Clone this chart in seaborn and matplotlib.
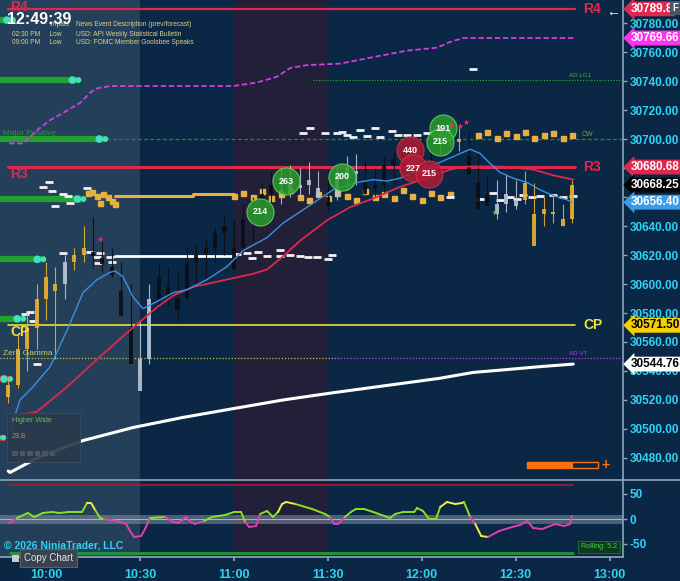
import matplotlib
matplotlib.use("Agg")
import matplotlib.pyplot as plt
import matplotlib.transforms as mtransforms
from matplotlib.patches import Rectangle
from matplotlib.lines import Line2D
import seaborn as sns

sns.set_theme(style="dark")
plt.rcParams["font.family"] = ["Liberation Sans", "DejaVu Sans"]

# ----------------------------------
# Data  (x = minutes after 10:00, y = price)
# ----------------------------------
candle_min = [-12, -9, -6, -3, 0, 3, 6, 9, 12, 15, 18, 21, 24, 27, 30, 33, 36, 39, 42, 45,
              48, 51, 54, 57, 60, 63, 66, 69, 72, 75, 78, 81, 84, 87, 90, 93, 96, 99, 102, 105,
              108, 111, 114, 117, 120, 123, 126, 129, 132, 135, 138, 141, 144, 147, 150, 153,
              156, 159, 162, 165, 168]
candle_open = [30522, 30530, 30555, 30570, 30590, 30605, 30600, 30615, 30620, 30625, 30622,
               30618, 30612, 30595, 30570, 30548, 30590, 30605, 30598, 30590, 30615, 30620,
               30625, 30635, 30640, 30625, 30645, 30650, 30662, 30668, 30665, 30670, 30668,
               30672, 30666, 30660, 30675, 30680, 30678, 30670, 30668, 30682, 30686, 30692,
               30690, 30696, 30700, 30705, 30702, 30700, 30688, 30670, 30662, 30655, 30662,
               30658, 30670, 30648, 30652, 30650, 30645]
candle_close = [30530, 30555, 30570, 30590, 30605, 30600, 30615, 30620, 30625, 30622, 30618,
                30612, 30595, 30570, 30548, 30590, 30605, 30598, 30590, 30615, 30620, 30625,
                30635, 30640, 30625, 30645, 30650, 30662, 30668, 30665, 30670, 30668, 30672,
                30666, 30660, 30675, 30680, 30678, 30670, 30668, 30682, 30686, 30692, 30690,
                30696, 30700, 30705, 30702, 30700, 30688, 30670, 30662, 30655, 30662, 30658,
                30670, 30648, 30652, 30650, 30645, 30668]
candle_high = [30535, 30565, 30580, 30600, 30615, 30612, 30620, 30625, 30640, 30646, 30630,
               30625, 30615, 30600, 30575, 30600, 30615, 30612, 30610, 30625, 30628, 30632,
               30640, 30648, 30645, 30655, 30660, 30670, 30678, 30680, 30682, 30680, 30684,
               30678, 30672, 30682, 30688, 30690, 30685, 30680, 30688, 30692, 30698, 30700,
               30702, 30706, 30710, 30712, 30710, 30705, 30690, 30675, 30672, 30675, 30672,
               30678, 30670, 30660, 30662, 30655, 30672]
candle_low = [30518, 30528, 30540, 30555, 30575, 30548, 30590, 30610, 30615, 30612, 30608,
              30605, 30590, 30560, 30538, 30545, 30585, 30585, 30575, 30590, 30600, 30605,
              30615, 30620, 30612, 30622, 30630, 30645, 30650, 30655, 30660, 30660, 30662,
              30660, 30652, 30658, 30665, 30668, 30662, 30660, 30662, 30670, 30672, 30675,
              30680, 30685, 30690, 30695, 30692, 30682, 30665, 30655, 30645, 30650, 30652,
              30655, 30642, 30640, 30642, 30640, 30642]
candle_kind = "ggggggwggkkkkkwwkkkkkkkkkkkkkwwwwwkwwwkkkkkkkkgggkkkwwwgggggg"

ema_min = [-11.5, -8.3, -4.2, 1.3, 6.7, 11.8, 16.3, 20.4, 22, 24.6, 27.8, 31, 35.5, 40.6, 45,
           51.4, 57.8, 62.9, 70.6, 75.7, 83.4, 91.7, 99.4, 104.5, 108.9, 113.1, 119.5, 125.9,
           132.3, 135.5, 138.7, 141.9, 145, 149.2, 153.7, 157.8, 162, 166.5, 168]
ema_val = [30499, 30520, 30529, 30543, 30568, 30594, 30603, 30608, 30609, 30605, 30591, 30583,
           30588, 30594, 30596, 30603, 30612, 30623, 30632, 30642, 30653, 30665, 30670, 30672,
           30671, 30673, 30679, 30684, 30690, 30693, 30690, 30683, 30677, 30673, 30670, 30665,
           30661, 30658, 30656.4]

slow_min = [-11.5, -2.9, 6.7, 17.3, 27.8, 35.5, 40.6, 47, 59.7, 66.1, 70.6, 75.7, 81.2, 89.8,
            97.1, 104.5, 113.1, 121.7, 129.1, 134.5, 145, 155.6, 162, 168.4]
slow_val = [30508, 30512, 30529, 30550, 30570, 30584, 30592, 30598, 30604, 30607, 30610, 30619,
            30630, 30644, 30653, 30659, 30667, 30673, 30679, 30681, 30681, 30679, 30675, 30672]

vwap_min = [-12.1, -11.5, -1.9, 11.8, 27.8, 43.8, 59.7, 75.7, 91.7, 125.9, 136.4, 147.3, 157.8, 168.4]
vwap_val = [30471, 30470, 30481, 30492, 30501, 30508, 30514, 30520, 30525, 30535, 30539, 30541,
            30543, 30544.76]

band_min = [-11.8, -7.3, -2.9, 1.3, 5.4, 10.9, 14.1, 16.3, 20.4, 59.7, 67.4, 73.8, 78, 83.4,
            93.9, 104.5, 115.3, 124.9, 129.1, 133.2, 168.4]
band_val = [30697, 30697, 30706, 30713, 30718, 30725, 30732, 30735, 30736.5, 30736.5, 30739,
            30743, 30749, 30751, 30752, 30756.5, 30761, 30763, 30767, 30769.66, 30769.66]

gold_min = [60, 63, 66, 69, 72, 75, 78, 81, 84, 87, 90, 93, 96, 99, 102, 105, 108, 111, 114,
            117, 120, 123, 126, 129, 13.4, 14.7, 16.3, 17.3, 18.2, 19.8, 21.1, 22,
            138, 141, 144, 147, 150, 153, 156, 159, 162, 165, 168]
gold_val = [30661, 30663, 30660, 30664, 30659, 30662, 30665, 30660, 30658, 30662, 30659, 30663,
            30661, 30658, 30664, 30660, 30662, 30659, 30665, 30661, 30658, 30663, 30660, 30662,
            30662.8, 30663.4, 30660.7, 30655.9, 30662.1, 30660, 30657.2, 30655.2,
            30703, 30705, 30701, 30704, 30702, 30705, 30701, 30703, 30704, 30701, 30703]

dash_min = [82.1, 84.3, 89.1, 93.0, 94.6, 96.2, 98.1, 100.3, 102.6, 105.1, 106.7, 110.5, 112.5,
            115.3, 118.5, 121.7, 136.4, 129.1, 138.7, 142.8, 148.2, 152.4, 155.3, 157.8, 162,
            165.2, 168.4, 145, 150.5, 61, 64.2, 65.8, 67.7, 70.6, 74.8, 74.8, 78, 81.2, 83.7,
            86.6, 91.4, 90.1, -1, 1, 1.9, 5.4, 7, 7.7, 2.9, 13.1, 5.4, 14.1, 17.3, 16.3, 20.4,
            21.1, 16.6, -6.7, -5.1, -4.2, -2.9]
dash_val = [30704.1, 30707.6, 30704.1, 30704.1, 30704.8, 30702.8, 30701.4, 30706.2, 30702.1,
            30707.6, 30701.4, 30705.5, 30702.8, 30702.8, 30702.8, 30704.1, 30748.3, 30660,
            30658.6, 30662.8, 30660, 30661.4, 30660, 30660.7, 30661.4, 30660, 30660.7, 30657.9,
            30658.6, 30620.7, 30621.4, 30617.9, 30622.1, 30619.3, 30623.4, 30619.3, 30620,
            30619.3, 30618.6, 30618.6, 30620, 30617.2, 30667, 30670.3, 30664.1, 30662, 30660.7,
            30655.9, 30653.8, 30666.2, 30621.4, 30622.1, 30621.4, 30618.6, 30618.6, 30615.2,
            30614.5, 30579.3, 30580.7, 30574.5, 30544.8]

bubble_min = [76.7, 68.4, 94.6, 126.8, 125.9, 116.3, 117.3, 122.4]
bubble_val = [30671, 30650, 30674, 30707.6, 30698, 30692.4, 30680, 30676]
bubble_txt = ["263", "214", "200", "191", "215", "440", "227", "215"]
bubble_side = ["buy", "buy", "buy", "buy", "buy", "sell", "sell", "sell"]

star_min = [17.3, 129.7, 132.3, 134.2]
star_val = [30631, 30710, 30709, 30711.7]
green_star = (143.5, 30649.6)

left_bar_val = [30782, 30740.7, 30700, 30658.6, 30617, 30576, 30534.5, 30494]
left_bar_end = [-10, 10.9, 19.5, 12.5, -0.3, -6.7, -10.9, -13.1]
left_bar_kind = ["g", "g", "g", "g", "g", "g", "r", "r"]

osc_min = [-11.8, -9.3, -5.8, -3.8, -1, 1.9, 4.2, 7.3, 11.5, 13.1, 14.4, 15.7, 17.3, 18.5, 20.8,
           22.7, 25.6, 26.8, 28.1, 30.4, 31.6, 33.2, 38, 40.6, 42.2, 44.7, 46.3, 47.6, 50.5, 53,
           57.2, 60.1, 62.3, 63.6, 64.9, 67.1, 68.4, 70.6, 72.5, 74.1, 75.4, 76.7, 79.6, 85,
           89.1, 90.7, 92, 93.3, 95.5, 97.4, 99, 101.6, 104.5, 109.9, 111.5, 114.1, 117.6,
           118.5, 120.4, 122.4, 124.6, 125.9, 128.1, 130.7, 132.9, 133.5, 135.5, 137.1, 139,
           141.2, 144.7, 148.9, 151.4, 153.7, 155.6, 158.5, 162.6, 165.5, 167.4, 168]
osc_val = [-8, 2, 12, 4, 12, 14, 12, 14, 14, 32, 32, 18, 2, 0, -2, -4, -10, -24, -36, -34, -20,
           2, 4, -6, -8, 4, -6, -10, -4, 4, 8, 14, 14, -6, -16, -14, 10, 16, 4, 14, 30, 34, 30,
           20, 10, 4, -10, -10, 4, 14, 20, 20, 14, 2, 10, 14, 14, 22, 16, 0, 0, 24, 34, 30, 32,
           34, 4, -10, -34, -36, -24, -16, -12, -4, -18, -20, -10, -14, -10, 6]
osc_yellow = [(12.5, 15.2), (74.5, 80), (126.5, 134), (138, 142.5)]

price_ticks = [30480, 30500, 30520, 30540, 30560, 30580, 30600, 30620, 30640, 30660, 30680,
               30700, 30720, 30740, 30760, 30780]
hidden_ticks = [30660, 30680]
time_ticks = [0, 30, 60, 90, 120, 150, 180]
time_labels = ["10:00", "10:30", "11:00", "11:30", "12:00", "12:30", "13:00"]

NAVY = "#0a2746"
SHADE = "#243f5a"
PURPLE = "#221f38"
CYAN = "#2fd3f2"
RED = "#e0284f"
GOLD = "#e8b040"

X0, X1 = -14.7, 184.3


def fx(px):
    return px / 680


def fy(py):
    return 1 - py / 581


fig = plt.figure(figsize=(6.8, 5.81), dpi=100, facecolor=NAVY)
ax = fig.add_axes([0, 102 / 581, 623 / 680, 479 / 581])
ax2 = fig.add_axes([0, 24 / 581, 623 / 680, 78 / 581])

for a in (ax, ax2):
    a.set_facecolor(NAVY)
    a.set_xlim(X0, X1)
    a.axvspan(X0, 30, color=SHADE, lw=0, zorder=0)
    a.axvspan(60, 90, color=PURPLE, lw=0, zorder=0)
    a.grid(False)
    for s in ("top", "left", "bottom"):
        a.spines[s].set_visible(False)
    a.spines["right"].set_color("#8ea3b8")
    a.spines["right"].set_linewidth(1.2)
    a.yaxis.tick_right()
    a.tick_params(axis="y", colors="#8ea3b8", labelcolor=CYAN, length=3, width=1,
                  pad=2, labelsize=8.5, right=True, left=False)

ax.set_ylim(30465.5, 30795.9)
ax2.set_ylim(-76, 80)
ax.set_xticks([])
ax.set_yticks(price_ticks)
ax.set_yticklabels(["" if v in hidden_ticks else f"{v:.2f}" for v in price_ticks],
                   fontweight="bold")
ax2.set_yticks([50, 0, -50])
ax2.set_yticklabels(["50", "0", "-50"], fontweight="bold")
ax2.spines["bottom"].set_visible(True)
ax2.spines["bottom"].set_color("#8ea3b8")
ax2.set_xticks(time_ticks)
ax2.set_xticklabels(time_labels, fontweight="bold")
ax2.tick_params(axis="x", colors="#8ea3b8", labelcolor=CYAN, labelsize=9, length=3,
                pad=6, bottom=True)

# ----------------------------------
# level lines
# ----------------------------------
ax.plot([-12, 169], [30789.8] * 2, color=RED, lw=1.6, zorder=2)
ax.plot([-12, 169], [30680.68] * 2, color=RED, lw=2.2, zorder=2)
ax.plot([-12, 169], [30571.5] * 2, color="#e6e040", lw=1.2, zorder=2)
ax.plot([X0, 94], [30549] * 2, color="#c8c840", lw=0.9, ls=(0, (1, 1.5)), zorder=2)
ax.plot([91, X1], [30549] * 2, color="#c040e0", lw=0.9, ls=(0, (1, 1.5)), zorder=2)
ax.plot([85.3, X1], [30741] * 2, color="#30b030", lw=0.8, ls=(0, (1, 1.5)), zorder=2)
ax.plot([X0, X1], [30700] * 2, color="#2a8a2a", lw=0.9, ls=(0, (3, 2)), zorder=2)

for val, end, kind in zip(left_bar_val, left_bar_end, left_bar_kind):
    c = "#22a030" if kind == "g" else "#e82020"
    ax.plot([X0, end], [val, val], color=c, lw=4.5, solid_capstyle="butt", zorder=3)
    ax.scatter([end - 2.5, end - 0.5], [val, val], s=[30, 16], color="#40e0c0", zorder=4,
               linewidths=0)

# stepped order-flow markers
ax.plot([22, 47], [30660.7] * 2, color=GOLD, lw=2.2, zorder=3)
ax.plot([47, 60], [30662] * 2, color=GOLD, lw=2.2, zorder=3)
ax.plot([22, 59.7], [30619.3] * 2, color="white", lw=2, zorder=3)
ax.plot(gold_min, gold_val, ls="none", marker="s", ms=3.6, color=GOLD, zorder=3)
ax.plot(dash_min, dash_val, ls="none", marker="_", ms=6, mew=2, color="#f4f0f4", zorder=3)

# curves
sns.lineplot(x=band_min, y=band_val, ax=ax, color="#d040e0", lw=1.3, linestyle=(0, (3, 1.5)),
             estimator=None, sort=False, zorder=3)
sns.lineplot(x=vwap_min, y=vwap_val, ax=ax, color="white", lw=2.2, estimator=None,
             sort=False, zorder=3)

# candles
kind_color = {"g": "#e8b030", "w": "#b8c4d4", "k": "#0c0e14"}
for m, o, c, h, l, k in zip(candle_min, candle_open, candle_close, candle_high, candle_low,
                            candle_kind):
    col = kind_color[k]
    ax.vlines(m, l, h, color=col, lw=0.8, zorder=4, alpha=0.9)
    body = c - o if abs(c - o) > 1 else 1.2
    ax.bar(m, body, bottom=min(o, c) if abs(c - o) > 1 else c - 0.6, width=1.3, color=col,
           zorder=4, alpha=0.9, linewidth=0)

sns.lineplot(x=slow_min, y=slow_val, ax=ax, color="#e0284f", lw=1.3, estimator=None,
             sort=False, zorder=5)
sns.lineplot(x=ema_min, y=ema_val, ax=ax, color="#3f8fe0", lw=1.0, estimator=None,
             sort=False, zorder=5)

# bubbles
for m, v, t, side in zip(bubble_min, bubble_val, bubble_txt, bubble_side):
    fc = "#2a9d2e" if side == "buy" else "#b01c34"
    ec = "#60d860" if side == "buy" else "#d03048"
    ax.scatter([m], [v], s=380, color=fc, edgecolors=ec, linewidths=0.8, alpha=0.85, zorder=6)
    ax.text(m, v, t, color="white", fontsize=6.5, fontweight="bold", ha="center",
            va="center", zorder=7)
ax.scatter(star_min, star_val, marker="*", s=22, color="#e0305a", zorder=7, linewidths=0)
ax.scatter([green_star[0]], [green_star[1]], marker="*", s=22, color="#60e040", zorder=7,
           linewidths=0)

# level labels
lbl = dict(fontsize=10, fontweight="bold", va="center", zorder=6)
ax.text(171.5, 30789.8, "R4", color=RED, **lbl)
ax.text(171.5, 30680.68, "R3", color=RED, **lbl)
ax.text(171.5, 30571.5, "CP", color="#f0e040", **lbl)
ax.text(-11.5, 30791, "R4", color=RED, **lbl)
ax.text(-11.5, 30676, "R3", color=RED, **lbl)
ax.text(-11.5, 30567, "CP", color="#f0e040", **lbl)
ax.text(-13.8, 30702.5, "Major Positive", color="#2a9a3a", fontsize=6, zorder=6)
ax.text(-13.8, 30551, "Zero Gamma", color="#c8d060", fontsize=6, zorder=6)
ax.text(167, 30743, "AD LG1", color="#30c030", fontsize=4.5, zorder=6)
ax.text(167, 30551, "AD VT", color="#b040e0", fontsize=4.5, zorder=6)
ax.text(171, 30702, "CW", color="#7a9a3a", fontsize=5, zorder=6)

# right-hand price boxes
blend = mtransforms.blended_transform_factory(ax.transAxes, ax.transData)
boxes = [(30789.8, "30789.8", "#e0284f", "white"),
         (30769.66, "30769.66", "#ff33ee", "white"),
         (30680.68, "30680.68", "#e0284f", "white"),
         (30668.25, "30668.25", "#000000", "white"),
         (30656.40, "30656.40", "#3a9be8", "white"),
         (30571.50, "30571.50", "#f5d000", "black"),
         (30544.76, "30544.76", "#ffffff", "black")]
for val, txt, fc, tc in boxes:
    ax.text(1.013, val, txt, transform=blend, color=tc, fontsize=8.5, fontweight="bold",
            ha="left", va="center", clip_on=False, zorder=10,
            bbox=dict(boxstyle="larrow,pad=0.12", fc=fc, ec="none"))

# ----------------------------------
# oscillator panel
# ----------------------------------
ax2.axhspan(-9, 9, color="#8090a4", alpha=0.55, lw=0, zorder=1)
ax2.axhline(0, color="#b8c4d0", lw=0.6, zorder=1)
ax2.plot([-11.5, 168.4], [68, 68], color="#a81a35", lw=1.2, zorder=2)
ax2.plot([-11.5, 168.4], [-68, -68], color="#1f9a3a", lw=2, zorder=2)
for i in range(len(osc_min) - 1):
    xa, xb = osc_min[i], osc_min[i + 1]
    mid_v = (osc_val[i] + osc_val[i + 1]) / 2
    col = "#8ce020" if mid_v >= 0 else "#e040b0"
    for lo, hi in osc_yellow:
        if lo <= (xa + xb) / 2 <= hi:
            col = "#f0f040"
    ax2.plot([xa, xb], [osc_val[i], osc_val[i + 1]], color=col, lw=1.4, zorder=3,
             solid_capstyle="round")

# ----------------------------------
# overlays in figure pixels
# ----------------------------------
fig.add_artist(Line2D([0, 1], [fy(480)] * 2, color="#8ea3b8", lw=1.2))

fig.text(fx(7), fy(20), "12:49:39", color="white", fontsize=11.5, fontweight="bold",
         va="center", zorder=12)
news = [(25, "Impact", "News Event Description (prev/forecast)"),
        (34, "02:30 PM     Low", "USD: API Weekly Statistical Bulletin"),
        (43, "09:00 PM     Low", "USD: FOMC Member Goolsbee Speaks")]
for y, left, right in news:
    lx = 49 if left == "Impact" else 12
    fig.text(fx(lx), fy(y), left, color="#e0d080", fontsize=4.8, va="center", zorder=11)
    fig.text(fx(76), fy(y), right, color="#e0d080", fontsize=4.8, va="center", zorder=11)

fig.add_artist(Rectangle((fx(7), fy(462)), 73 / 680, 49 / 581, transform=fig.transFigure,
                         fc="#2b3a4c", ec="#3c4a5a", lw=0.8, alpha=0.92))
fig.text(fx(12), fy(421), "Higher Wide", color="#50c850", fontsize=5.2, va="center")
fig.text(fx(12), fy(437), "23.8", color="#c09040", fontsize=5.2, va="center")
for i in range(6):
    fig.add_artist(Rectangle((fx(12 + i * 7.5), fy(456)), 5.5 / 680, 5 / 581,
                             transform=fig.transFigure, fc="#4a5664", ec="none"))

fig.add_artist(Rectangle((fx(527), fy(468)), 71 / 680, 6 / 581, transform=fig.transFigure,
                         fc="none", ec="#ff7010", lw=1))
fig.add_artist(Rectangle((fx(527), fy(468)), 46 / 680, 6 / 581, transform=fig.transFigure,
                         fc="#ff7010", ec="none"))
fig.text(fx(601), fy(465), "+", color="#ff7010", fontsize=10, fontweight="bold", va="center")

fig.text(fx(606), fy(12), "\u2190", color="white", fontsize=10, va="center")
fig.text(fx(672), fy(8), "F", color="white", fontsize=7, fontweight="bold", va="center",
         bbox=dict(boxstyle="square,pad=0.25", fc="#4a5562", ec="none"))

fig.text(fx(4), fy(546), "\u00a9 2026 NinjaTrader, LLC", color=CYAN, fontsize=7.5,
         fontweight="bold", va="center")
fig.text(fx(24), fy(558), "Copy Chart", color="#e0e4ea", fontsize=7, va="center", zorder=12,
         bbox=dict(boxstyle="square,pad=0.4", fc="#39424e", ec="#58626e", lw=0.8))
fig.add_artist(Rectangle((fx(12), fy(562)), 7 / 680, 7 / 581, transform=fig.transFigure,
                         fc="#c8ccd2", ec="none", zorder=13))
fig.text(fx(581), fy(547), "Rolling: 5.2", color="#40d040", fontsize=5.2, va="center",
         bbox=dict(boxstyle="square,pad=0.35", fc="#0d3a1e", ec="#1a7a2a", lw=0.6))

fig.savefig("out.png", dpi=100, facecolor=NAVY)
